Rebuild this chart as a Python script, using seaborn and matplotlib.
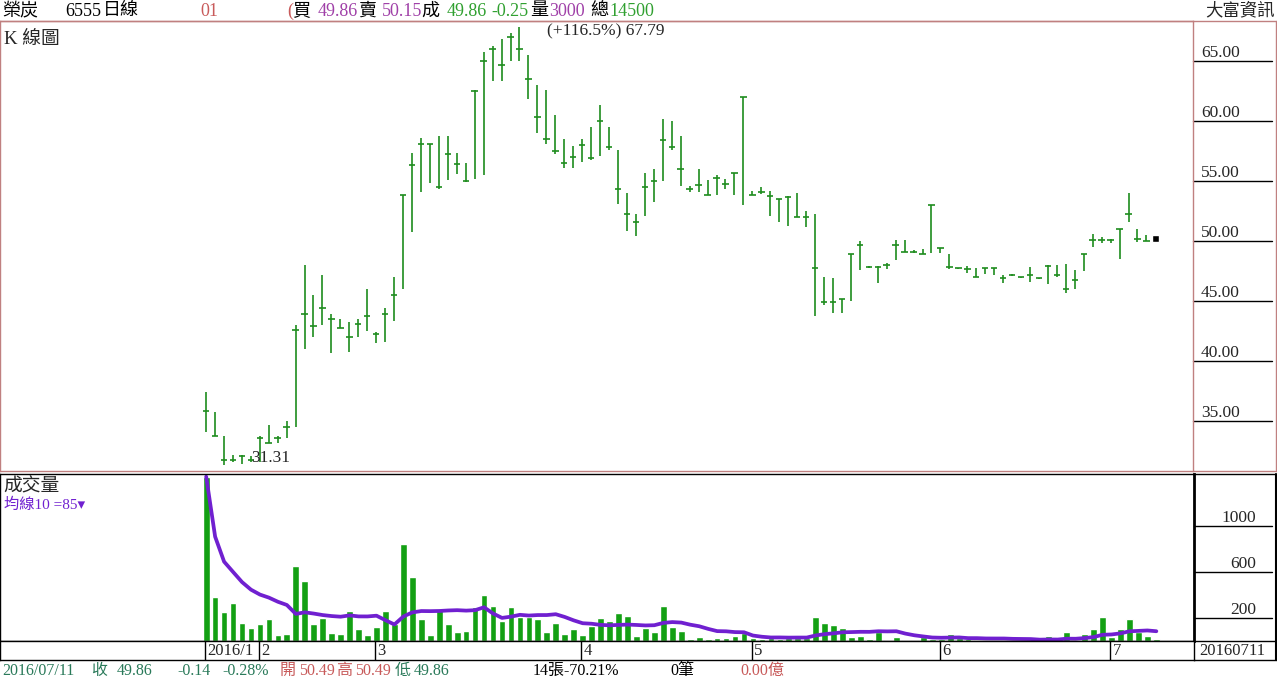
import numpy as np
import pandas as pd
import matplotlib
matplotlib.use("Agg")
import matplotlib.pyplot as plt
import matplotlib.transforms as mtransforms
from matplotlib.lines import Line2D
import seaborn as sns

# daily bars 2016/01 .. 2016/07/08 (high, low, close)
high = [37.37, 35.70, 33.71, 32.15, 32.15, 32.10, 33.71, 34.65, 33.71, 35.01,
        42.96, 47.95, 45.45, 47.12, 43.88, 43.52, 43.19, 43.52, 45.95, 42.40,
        44.43, 46.98, 53.85, 57.32, 58.56, 58.09, 58.70, 58.70, 57.32, 56.49,
        62.58, 65.76, 66.24, 66.79, 67.29, 67.79, 65.49, 62.99, 62.52, 60.50,
        58.48, 57.92, 58.48, 59.48, 61.29, 59.48, 57.59, 53.99, 52.19, 55.65,
        55.99, 60.14, 59.94, 58.75, 54.54, 56.01, 55.04, 55.51, 55.16, 55.65,
        61.97, 54.18, 54.46, 54.13, 53.49, 53.71, 53.99, 52.46, 52.19, 47.01,
        46.93, 45.12, 48.92, 50.00, 47.89, 47.89, 48.17, 50.03, 50.03, 49.20,
        49.34, 53.02, 49.42, 48.92, 47.76, 47.89, 47.76, 47.76, 47.76, 47.12,
        47.20, 47.01, 47.84, 46.93, 47.95, 47.95, 48.09, 47.53, 48.92, 50.53,
        50.30, 50.17, 51.00, 53.99, 51.00, 50.44]
low = [34.04, 33.71, 31.31, 31.55, 31.41, 31.55, 31.55, 33.13, 33.13, 33.54,
       34.46, 40.97, 41.99, 42.96, 40.61, 42.69, 40.74, 41.99, 42.49, 41.52,
       41.57, 43.32, 46.01, 50.72, 54.04, 54.82, 54.27, 55.10, 55.60, 54.91,
       55.16, 55.51, 63.27, 63.27, 65.01, 65.01, 61.81, 58.98, 58.06, 57.23,
       56.07, 56.07, 56.58, 56.76, 57.07, 57.59, 53.10, 50.80, 50.38, 52.05,
       53.21, 54.96, 57.53, 54.60, 54.04, 54.04, 53.85, 53.85, 54.27, 53.79,
       52.96, 53.85, 53.91, 52.05, 51.55, 51.22, 52.00, 51.13, 43.73, 44.62,
       44.02, 44.02, 44.98, 47.56, 47.76, 46.51, 47.67, 48.39, 49.05, 49.00,
       48.86, 49.00, 49.00, 47.62, 47.62, 47.34, 47.01, 47.20, 47.12, 46.51,
       47.06, 46.93, 46.56, 46.84, 46.43, 47.01, 45.68, 46.01, 47.47, 49.50,
       49.84, 49.84, 48.50, 51.55, 49.89, 49.97]
close = [35.79, 33.71, 31.76, 31.76, 32.10, 31.76, 33.57, 33.13, 33.57, 34.46,
         42.55, 43.93, 42.90, 44.43, 43.46, 42.69, 41.94, 43.10, 43.73, 42.27,
         43.93, 45.45, 53.85, 56.29, 58.09, 58.09, 54.46, 57.26, 56.43, 55.01,
         62.50, 64.99, 65.96, 64.66, 67.01, 65.96, 63.47, 60.31, 58.51, 57.51,
         56.49, 57.01, 58.01, 56.90, 60.00, 57.78, 54.27, 52.19, 51.58, 54.49,
         55.01, 58.42, 57.82, 56.01, 54.27, 54.68, 53.85, 55.24, 54.74, 55.65,
         61.97, 53.85, 54.04, 53.77, 53.49, 53.66, 52.00, 52.00, 47.76, 44.90,
         44.90, 45.12, 48.92, 49.61, 47.84, 47.81, 47.97, 49.61, 49.05, 49.09,
         48.86, 53.02, 49.36, 47.81, 47.70, 47.62, 47.01, 47.70, 47.70, 46.87,
         47.14, 46.98, 47.12, 46.89, 47.89, 47.12, 45.95, 46.70, 48.92, 50.05,
         50.05, 50.03, 51.00, 52.19, 50.11, 50.00]
# today 2016/07/11
today_open, today_high, today_low, today_close = 50.49, 50.49, 49.86, 49.86

# volume in 張, last value is today
volume = [1429, 385, 255, 333, 159, 116, 148, 191, 55, 61,
          652, 522, 148, 203, 72, 61, 261, 104, 52, 125,
          261, 148, 843, 559, 191, 52, 275, 148, 78, 87,
          299, 400, 304, 174, 299, 212, 212, 191, 78, 159,
          61, 104, 55, 130, 200, 174, 246, 220, 46, 116,
          81, 307, 125, 87, 17, 38, 17, 26, 29, 46,
          67, 23, 20, 23, 20, 23, 23, 26, 212, 159,
          139, 113, 38, 46, 17, 75, 10, 38, 9, 12,
          38, 20, 17, 61, 30, 15, 8, 10, 6, 12,
          8, 10, 8, 10, 46, 10, 81, 5, 65, 100,
          205, 38, 104, 190, 81, 47, 14]

month_labels = ["2016/1", "2", "3", "4", "5", "6", "7"]
month_start = [0, 6, 19, 42, 61, 82, 101]
price_ticks = [35, 40, 45, 50, 55, 60, 65]
vol_ticks = [200, 600, 1000]

W, H = 1277, 682
PGREEN = "#1e8c1e"
VGREEN = "#13a013"
MAPURPLE = "#7020d0"
FRAME_RED = "#c08080"
HPURPLE = "#a040a8"
HGREEN = "#30a030"
HRED = "#c85a5a"
FGREEN = "#2a7a5a"

sns.set_style("white")
plt.rcParams['font.family'] = ['Liberation Serif', 'Noto Sans CJK TC', 'DejaVu Sans']


def box(x0, y0, x1, y1):
    return [x0 / W, 1 - y1 / H, (x1 - x0) / W, (y1 - y0) / H]


def fx(x):
    return x / W


def fy(y):
    return 1 - y / H


fig = plt.figure(figsize=(W / 100, H / 100), dpi=100)
ax_p = fig.add_axes(box(0, 21, 1193, 471))
ax_v = fig.add_axes(box(0, 474, 1194, 641))
ax_d = fig.add_axes(box(0, 641, 1194, 660))

n = len(close)
idx = np.arange(n)
xmin, xmax = -23.0, 110.2

# ---- price panel (HLC bars)
ax_p.vlines(idx, low, high, color=PGREEN, lw=1.2)
ax_p.hlines(close, idx - 0.36, idx + 0.36, color=PGREEN, lw=1.2)
ax_p.bar(n, today_high - today_low, bottom=today_low, width=0.75, color="black")

hi = max(high)
lo = min(low)
rng = hi - lo
ax_p.set_xlim(xmin, xmax)
ax_p.set_ylim(lo - 0.0135 * rng, hi + 0.0142 * rng)
ax_p.set_xticks([])
ax_p.set_yticks([])
for s in ax_p.spines.values():
    s.set_color(FRAME_RED)
    s.set_linewidth(1)

imax = int(np.argmax(high))
imin = int(np.argmin(low))
ax_p.annotate(f"(+{(hi - lo) / lo * 100:.1f}%) {hi:.2f}", (imax + 3.05, hi),
              xytext=(0, 3), textcoords="offset points", ha="left", va="top", fontsize=12.5)
ax_p.annotate(f"{lo:.2f}", (imin + 3.1, lo), xytext=(0, 2), textcoords="offset points",
              ha="left", va="baseline", fontsize=12.5)
ax_p.text(0.003, 0.977, "K 線圖", transform=ax_p.transAxes, ha="left", va="top", fontsize=13.5)

tp = mtransforms.blended_transform_factory(ax_p.transAxes, ax_p.transData)
for t in price_ticks:
    ax_p.plot([1.0, 1.0 + 79 / 1193], [t, t], transform=tp, color="black", lw=1, clip_on=False)
    ax_p.text(1.0 + 8 / 1193, t, f"{t:.2f}", transform=tp, ha="left", va="bottom", fontsize=12.5)

# ---- volume panel
df = pd.DataFrame({"i": np.arange(len(volume)), "vol": volume})
df["ma"] = df["vol"].rolling(10, min_periods=1).mean()
sns.barplot(data=df, x="i", y="vol", native_scale=True, width=0.75, color=VGREEN,
            saturation=1, errorbar=None, ax=ax_v)
sns.lineplot(data=df, x="i", y="ma", color=MAPURPLE, lw=2.7, ax=ax_v)
ax_v.set_xlim(xmin, xmax)
ax_v.set_ylim(0, max(volume) * 1.016)
ax_v.set_xticks([])
ax_v.set_yticks([])
ax_v.set_xlabel("")
ax_v.set_ylabel("")
for s in ax_v.spines.values():
    s.set_color("black")
    s.set_linewidth(1)
ax_v.spines["right"].set_linewidth(2)

tv = mtransforms.blended_transform_factory(ax_v.transAxes, ax_v.transData)
for t in vol_ticks:
    ax_v.plot([1.0, 1.0 + 78 / 1194], [t, t], transform=tv, color="black", lw=1, clip_on=False)
    ax_v.text(1.0 + 62 / 1194, t, f"{t}", transform=tv, ha="right", va="bottom", fontsize=12.5)

ax_v.text(0.003, 0.975, "成交量", transform=ax_v.transAxes, ha="left", va="top", fontsize=13.5)
ax_v.text(0.003, 0.86, f"均線10 ={df['ma'].iloc[-1]:.0f}▾", transform=ax_v.transAxes,
          ha="left", va="top", fontsize=11, color=MAPURPLE)

# ---- date strip
ax_d.set_xlim(xmin, xmax)
ax_d.set_ylim(0, 1)
ax_d.set_xticks([])
ax_d.set_yticks([])
for s in ax_d.spines.values():
    s.set_color("black")
    s.set_linewidth(1)
for m, lab in zip(month_start, month_labels):
    ax_d.axvline(m - 0.15, color="black", lw=1)
    ax_d.text(m + 0.1, 0.45, lab, ha="left", va="center", fontsize=12)
fig.text(fx(1199), fy(651), "20160711", ha="left", va="center", fontsize=12)

# ---- frame lines on the right-hand side
for (x0, y0, x1, y1, c, w) in [
    (0, 20.5, W, 20.5, FRAME_RED, 1), (1193, 471, W, 471, FRAME_RED, 1),
    (1193, 474, W, 474, "black", 1), (1194, 641, W, 641, "black", 1),
    (1194, 660, W, 660, "black", 1), (W - 1, 474, W - 1, 660, "black", 1.5),
    (W - 1, 21, W - 1, 471, FRAME_RED, 1)]:
    fig.add_artist(Line2D([fx(x0), fx(x1)], [fy(y0), fy(y1)], color=c, lw=w))

# ---- header
header = [(2, "榮炭", "black"), (65, "6555", "black"), (103, "日線", "black"),
          (200, "01", HRED), (287, "(", HRED), (292, "買", "black"),
          (318, "49.86", HPURPLE), (358, "賣", "black"), (382, "50.15", HPURPLE),
          (421, "成", "black"), (447, "49.86", HGREEN), (491, "-0.25", HGREEN),
          (530, "量", "black"), (549, "3000", HPURPLE), (590, "總", "black"),
          (609, "14500", HGREEN)]
for x, s, c in header:
    fig.text(fx(x), fy(11), s, ha="left", va="center", fontsize=13, color=c)
fig.text(fx(1275), fy(11), "大富資訊", ha="right", va="center", fontsize=12.5)

# ---- footer
prev_close = close[-1]
chg = today_close - prev_close
vchg = (volume[-1] - volume[-2]) / volume[-2] * 100
footer = [(2, "2016/07/11", FGREEN), (91, "收", FGREEN), (117, f"{today_close:.2f}", FGREEN),
          (177, f"{chg:.2f}", FGREEN), (222, f"{chg / prev_close * 100:.2f}%", FGREEN),
          (280, "開", HRED), (299, f"{today_open:.2f}", HRED),
          (336, "高", HRED), (355, f"{today_high:.2f}", HRED),
          (395, "低", FGREEN), (414, f"{today_low:.2f}", FGREEN),
          (533, f"{volume[-1]}張{vchg:.2f}%", "black"), (670, "0筆", "black"),
          (740, "0.00億", HRED)]
for x, s, c in footer:
    fig.text(fx(x), fy(671), s, ha="left", va="center", fontsize=11.5, color=c)

fig.savefig("out.png", dpi=100)
